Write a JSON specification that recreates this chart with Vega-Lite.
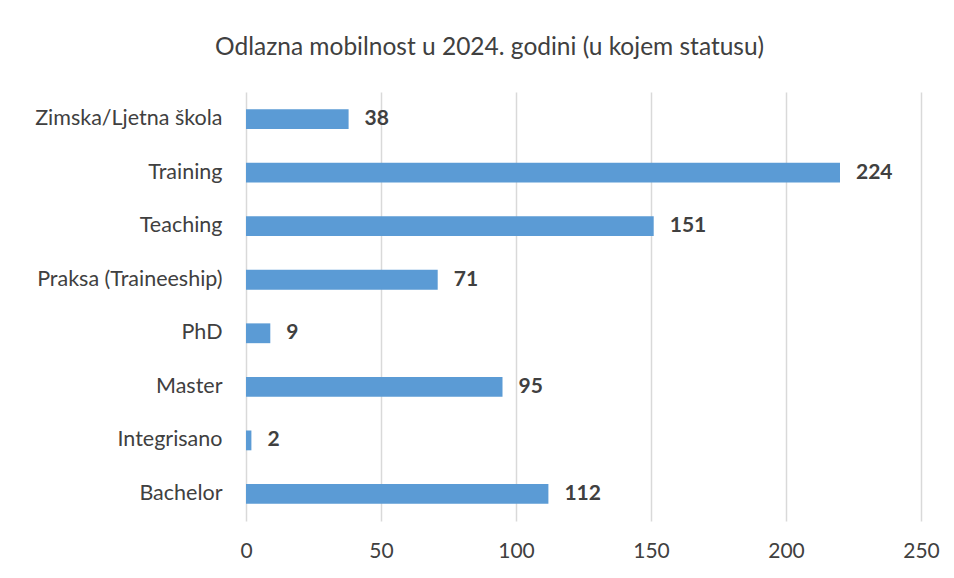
{
  "$schema": "https://vega.github.io/schema/vega-lite/v6.json",
  "autosize": {"type": "none"},
  "width": 675,
  "height": 429,
  "padding": {"left": 246, "top": 92, "right": 33, "bottom": 57},
  "background": "white",
  "config": {"view": {"stroke": null}, "font": "Lato"},
  "title": {
    "text": "Odlazna mobilnost u 2024. godini (u kojem statusu)",
    "anchor": "middle",
    "dx": -94,
    "offset": 32,
    "fontSize": 24.5,
    "fontWeight": "normal",
    "color": "#404040",
    "font": "Lato"
  },
  "data": {
    "values": [
      {"status": "Zimska/Ljetna škola", "value": 38, "label": "38"},
      {"status": "Training", "value": 220, "label": "224"},
      {"status": "Teaching", "value": 151, "label": "151"},
      {"status": "Praksa (Traineeship)", "value": 71, "label": "71"},
      {"status": "PhD", "value": 9, "label": "9"},
      {"status": "Master", "value": 95, "label": "95"},
      {"status": "Integrisano", "value": 2, "label": "2"},
      {"status": "Bachelor", "value": 112, "label": "112"}
    ]
  },
  "encoding": {
    "y": {
      "field": "status",
      "type": "nominal",
      "sort": null,
      "scale": {"paddingInner": 0.63, "paddingOuter": 0.32},
      "axis": {
        "title": null,
        "ticks": false,
        "domain": false,
        "labelPadding": 24,
        "labelFontSize": 21.5,
        "labelLimit": 400,
        "labelColor": "#404040",
        "labelFont": "Lato"
      }
    },
    "x": {
      "field": "value",
      "type": "quantitative",
      "scale": {"domain": [0, 250], "nice": false},
      "axis": {
        "title": null,
        "values": [0, 50, 100, 150, 200, 250],
        "ticks": false,
        "domain": false,
        "grid": true,
        "gridColor": "#d9d9d9",
        "gridWidth": 1.5,
        "labelPadding": 19,
        "labelFontSize": 21,
        "labelColor": "#404040",
        "labelFont": "Lato",
        "labelFlush": false
      }
    }
  },
  "layer": [
    {"mark": {"type": "bar", "color": "#5b9bd5"}},
    {
      "mark": {"type": "text", "align": "left", "baseline": "middle", "dx": 16, "fontSize": 21, "fontWeight": "bold", "color": "#404040", "font": "Lato"},
      "encoding": {"text": {"field": "label"}}
    }
  ]
}
